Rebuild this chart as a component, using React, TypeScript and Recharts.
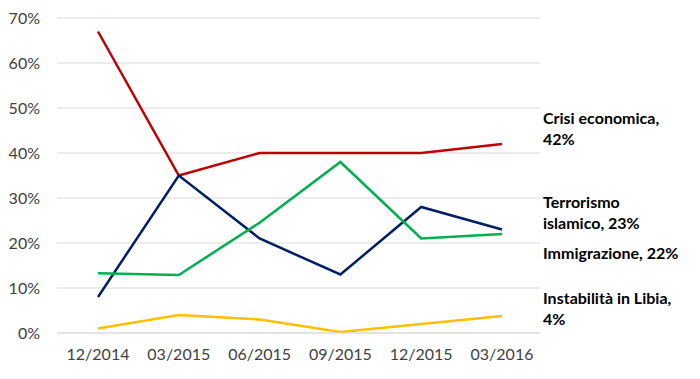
import React from "react";
import { LineChart, Line, XAxis, YAxis, CartesianGrid } from "recharts";

const periods = ["12/2014", "03/2015", "06/2015", "09/2015", "12/2015", "03/2016"];
const crisiEconomica = [67, 35, 40, 40, 40, 42];
const terrorismoIslamico = [8, 35, 21, 13, 28, 23];
const immigrazione = [13.3, 12.9, 24.5, 38, 21, 22];
const instabilitaLibia = [1, 4, 3, 0.2, 2, 3.8];
const yTicks = [0, 10, 20, 30, 40, 50, 60, 70];

const seriesLabels: { key: string; lines: string[]; dy: number; color: string }[] = [
    { key: "crisi", lines: ["Crisi economica,", "42%"], dy: -27, color: "#C00000" },
    { key: "terrorismo", lines: ["Terrorismo", "islamico, 23%"], dy: -29, color: "#002060" },
    { key: "immigrazione", lines: ["Immigrazione, 22%"], dy: 18, color: "#00B050" },
    { key: "libia", lines: ["Instabilità in Libia,", "4%"], dy: -19, color: "#FFC000" },
];

const data = periods.map((name, i) => ({
    name,
    crisi: crisiEconomica[i],
    terrorismo: terrorismoIslamico[i],
    immigrazione: immigrazione[i],
    libia: instabilitaLibia[i],
}));

const FONT = "Lato, 'Open Sans', sans-serif";

// draws the end-of-line label next to the last point only
function endLabel(lines: string[], dy: number) {
    return (props: any) => {
        const { cx, cy, index } = props;
        if (index !== periods.length - 1) return <g key={`d-${index}`} />;
        const x = cx + 41;
        return (
            <text
                key={`d-${index}`}
                x={x}
                y={cy + dy}
                fontFamily={FONT}
                fontSize={16}
                fontWeight="bold"
                fill="#000"
                dominantBaseline="central"
            >
                {lines.map((l, i) => (
                    <tspan key={i} x={x} dy={i === 0 ? 0 : 21}>
                        {l}
                    </tspan>
                ))}
            </text>
        );
    };
}

export default function App() {
    return (
        <div style={{ position: "absolute", left: 0, top: 0, background: "#fff" }}>
            <LineChart
                width={700}
                height={379}
                data={data}
                margin={{ top: 18, right: 160, left: 0, bottom: 0 }}
            >
                <CartesianGrid vertical={false} stroke="#d9d9d9" strokeWidth={1} />
                <XAxis
                    dataKey="name"
                    height={46}
                    padding={{ left: 41, right: 38 }}
                    tickLine={false}
                    axisLine={{ stroke: "#d9d9d9" }}
                    tickSize={0}
                    tickMargin={16}
                    tick={{ fill: "#404040", fontSize: 16, fontFamily: FONT }}
                />
                <YAxis
                    width={57}
                    domain={[0, 70]}
                    ticks={yTicks}
                    tickFormatter={(v) => `${v}%`}
                    tickLine={false}
                    axisLine={false}
                    tickSize={0}
                    tickMargin={17}
                    tick={{ fill: "#404040", fontSize: 16, fontFamily: FONT }}
                />
                {seriesLabels.map((s) => (
                    <Line
                        key={s.key}
                        type="linear"
                        dataKey={s.key}
                        stroke={s.color}
                        strokeWidth={2.5}
                        dot={endLabel(s.lines, s.dy)}
                        activeDot={false}
                        isAnimationActive={false}
                    />
                ))}
            </LineChart>
        </div>
    );
}
